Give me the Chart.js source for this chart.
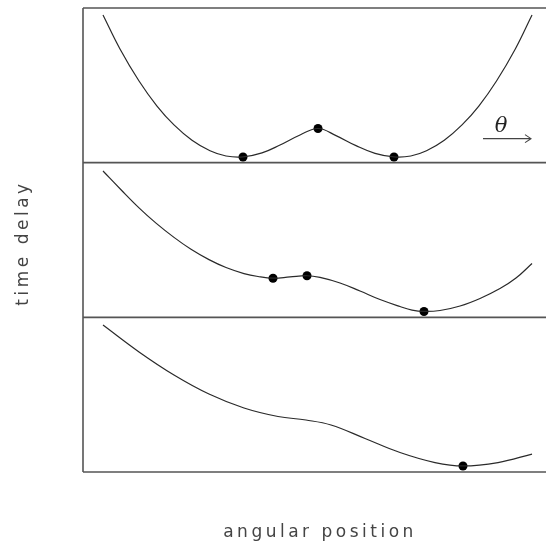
<!DOCTYPE html>
<html>
<head>
<meta charset="utf-8">
<script src="https://cdn.jsdelivr.net/npm/chart.js@4/dist/chart.umd.min.js"></script>
<style>
  html, body { margin: 0; padding: 0; background: #fff; }
  canvas { display: block; }
</style>
</head>
<body>
<canvas id="delay" width="546" height="547"></canvas>
<script>
// angular position (arbitrary units) along each curve
const thetaTop = [4.32, 7.99, 12.10, 15.98, 19.65, 23.54, 27.43, 30.89, 34.56, 38.66, 42.55, 46.87, 50.76, 54.64, 58.96, 63.07, 67.17, 70.80, 74.19, 78.03, 81.86, 85.49, 89.31, 93.37, 96.98];
const delayTop = [9.55, 7.35, 5.28, 3.66, 2.44, 1.45, 0.77, 0.43, 0.37, 0.63, 1.14, 1.79, 2.21, 1.75, 1.10, 0.60, 0.37, 0.43, 0.77, 1.45, 2.44, 3.66, 5.28, 7.35, 9.55];

const thetaMid = [4.32, 8.21, 12.10, 15.77, 19.65, 23.33, 27.21, 30.89, 34.77, 37.80, 41.04, 44.71, 48.38, 51.19, 55.51, 59.83, 64.15, 68.47, 71.06, 73.65, 77.11, 81.43, 85.75, 90.06, 93.52, 96.98];
const delayMid = [9.46, 8.25, 7.08, 6.09, 5.17, 4.40, 3.73, 3.22, 2.83, 2.64, 2.53, 2.61, 2.69, 2.58, 2.22, 1.70, 1.15, 0.70, 0.47, 0.38, 0.44, 0.73, 1.22, 1.86, 2.54, 3.48];

const thetaLow = [4.32, 12.10, 19.65, 27.21, 34.77, 42.12, 48.16, 53.56, 60.91, 68.47, 76.03, 82.07, 89.63, 96.98];
const delayLow = [9.50, 7.76, 6.27, 5.04, 4.14, 3.59, 3.36, 3.04, 2.17, 1.26, 0.61, 0.39, 0.61, 1.16];

// images: stationary points of the delay surface
const imagesTop = [[34.56, 0.37], [50.76, 2.21], [67.17, 0.37]];
const imagesMid = [[41.04, 2.53], [48.38, 2.69], [73.65, 0.38]];
const imagesLow = [[82.07, 0.39]];

const xLabel = 'angular position';
const yLabel = 'time delay';

const toPoints = (xs, ys) => xs.map((x, i) => ({ x: x, y: ys[i] }));
const toDots = arr => arr.map(p => ({ x: p[0], y: p[1] }));

function curve(xs, ys, axis) {
    return {
        data: toPoints(xs, ys),
        yAxisID: axis,
        showLine: true,
        borderColor: '#2a2a2a',
        borderWidth: 1.2,
        pointRadius: 0,
        tension: 0.4
    };
}

function dots(arr, axis) {
    return {
        data: toDots(arr),
        yAxisID: axis,
        showLine: false,
        pointRadius: 4.5,
        pointBackgroundColor: '#000',
        pointBorderColor: '#000',
        pointBorderWidth: 0
    };
}

const panelAxis = {
    type: 'linear',
    display: false,
    min: 0,
    max: 10,
    stack: 'panels',
    stackWeight: 1
};

// frame lines, the theta arrow and both axis titles
const frame = {
    id: 'frame',
    beforeDatasetsDraw(chart) {
        const { ctx, chartArea: { left, right, top, bottom } } = chart;
        ctx.save();
        ctx.strokeStyle = '#555';
        ctx.lineWidth = 1.6;
        ctx.beginPath();
        ['yLow', 'yMid', 'yTop'].forEach(id => {
            const s = chart.scales[id];
            ctx.moveTo(left, s.top);
            ctx.lineTo(right, s.top);
            ctx.moveTo(left, s.bottom);
            ctx.lineTo(right, s.bottom);
        });
        ctx.moveTo(left, top);
        ctx.lineTo(left, bottom);
        ctx.stroke();
        ctx.restore();
    },
    afterDraw(chart) {
        const { ctx, chartArea: { right, bottom } } = chart;
        ctx.save();
        ctx.fillStyle = '#444';
        ctx.textAlign = 'center';
        ctx.textBaseline = 'middle';
        ctx.font = '17px "DejaVu Sans"';
        ctx.letterSpacing = '3.5px';
        ctx.fillText(xLabel, 320, bottom + 61);
        ctx.translate(24, 243);
        ctx.rotate(-Math.PI / 2);
        ctx.fillText(yLabel, 0, 0);
        ctx.restore();

        // theta direction marker in the upper panel
        const s = chart.scales.yTop;
        const ay = s.bottom - 24;
        ctx.save();
        ctx.strokeStyle = '#444';
        ctx.fillStyle = '#222';
        ctx.lineWidth = 1.1;
        ctx.beginPath();
        ctx.moveTo(right - 63, ay);
        ctx.lineTo(right - 15, ay);
        ctx.moveTo(right - 21, ay - 4);
        ctx.lineTo(right - 15, ay);
        ctx.lineTo(right - 21, ay + 4);
        ctx.stroke();
        ctx.font = 'italic 21px "DejaVu Serif"';
        ctx.textAlign = 'center';
        ctx.textBaseline = 'middle';
        ctx.fillText('\u03b8', right - 45, ay - 12);
        ctx.restore();
    }
};

new Chart(document.getElementById('delay'), {
    type: 'scatter',
    data: {
        datasets: [
            curve(thetaTop, delayTop, 'yTop'),
            curve(thetaMid, delayMid, 'yMid'),
            curve(thetaLow, delayLow, 'yLow'),
            dots(imagesTop, 'yTop'),
            dots(imagesMid, 'yMid'),
            dots(imagesLow, 'yLow')
        ]
    },
    options: {
        responsive: false,
        animation: false,
        layout: { autoPadding: false, padding: { left: 83, top: 8, right: 0, bottom: 75 } },
        plugins: {
            legend: { display: false },
            tooltip: { enabled: false }
        },
        scales: {
            x: { type: 'linear', display: false, min: 0, max: 100 },
            yLow: Object.assign({}, panelAxis),
            yMid: Object.assign({}, panelAxis),
            yTop: Object.assign({}, panelAxis)
        }
    },
    plugins: [frame]
});
</script>
</body>
</html>
